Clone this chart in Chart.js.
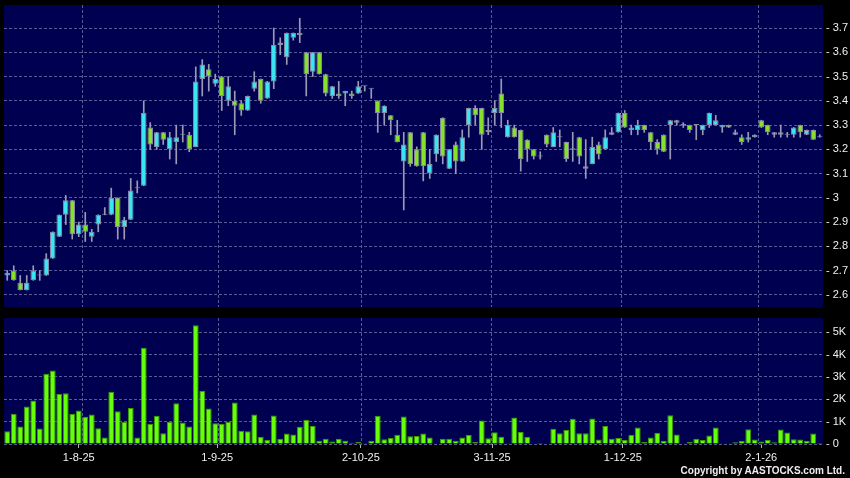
<!DOCTYPE html>
<html>
<head>
<meta charset="utf-8">
<script src="https://cdn.jsdelivr.net/npm/chart.js@4/dist/chart.umd.min.js"></script>
<style>
  body { margin: 0; background: #000; width: 850px; height: 478px; overflow: hidden; position: relative; }
  #priceChart { position: absolute; left: 0; top: 0; }
  #volumeChart { position: absolute; left: 0; top: 312px; }
  #copyright { position: absolute; right: 5px; top: 465px; color: #eeeeee; font: bold 10px "Liberation Sans", Arial, sans-serif; }
</style>
</head>
<body>
<canvas id="priceChart" width="850" height="312"></canvas>
<canvas id="volumeChart" width="850" height="166"></canvas>
<div id="copyright">Copyright by AASTOCKS.com Ltd.</div>
<script>
// daily OHLC, one entry per trading day (17 Jul 2025 .. 15 Jan 2026)
const opens = [
  2.68, 2.70, 2.65, 2.62, 2.66, 2.68, 2.68, 2.75, 2.84, 2.93,
  2.99, 2.85, 2.89, 2.84, 2.89, 2.93, 2.93, 3.00, 2.88, 2.91,
  3.04, 3.05, 3.29, 3.21, 3.27, 3.20, 3.23, 3.26, 3.26, 3.21,
  3.49, 3.53, 3.47, 3.50, 3.40, 3.40, 3.39, 3.36, 3.45, 3.49,
  3.41, 3.48, 3.63, 3.58, 3.66, 3.68, 3.60, 3.52, 3.60, 3.51,
  3.42, 3.43, 3.43, 3.43, 3.43, 3.46, 3.45, 3.40, 3.35, 3.34,
  3.26, 3.15, 3.27, 3.20, 3.27, 3.10, 3.18, 3.33, 3.12, 3.22,
  3.15, 3.30, 3.37, 3.37, 3.27, 3.35, 3.43, 3.25, 3.29, 3.28,
  3.24, 3.20, 3.17, 3.26, 3.21, 3.25, 3.23, 3.20, 3.25, 3.12,
  3.14, 3.22, 3.20, 3.26, 3.27, 3.35, 3.28, 3.28, 3.30, 3.27,
  3.23, 3.26, 3.30, 3.32, 3.30, 3.30, 3.30, 3.28, 3.30, 3.30,
  3.29, 3.30, 3.26, 3.25, 3.24, 3.25, 3.32, 3.30, 3.27, 3.26,
  3.26, 3.26, 3.30, 3.26, 3.28, 3.25
];
const highs = [
  2.70, 2.72, 2.68, 2.68, 2.72, 2.70, 2.77, 2.86, 2.93, 3.01,
  2.99, 2.90, 2.94, 2.87, 2.93, 2.96, 3.04, 3.00, 2.92, 3.08,
  3.07, 3.40, 3.31, 3.27, 3.27, 3.27, 3.30, 3.30, 3.27, 3.54,
  3.57, 3.55, 3.51, 3.50, 3.50, 3.44, 3.40, 3.42, 3.52, 3.49,
  3.48, 3.70, 3.66, 3.68, 3.68, 3.74, 3.60, 3.60, 3.60, 3.51,
  3.46, 3.48, 3.44, 3.44, 3.48, 3.46, 3.45, 3.40, 3.38, 3.34,
  3.32, 3.27, 3.27, 3.21, 3.27, 3.20, 3.26, 3.33, 3.20, 3.23,
  3.28, 3.37, 3.38, 3.37, 3.33, 3.40, 3.49, 3.32, 3.30, 3.28,
  3.24, 3.20, 3.19, 3.26, 3.29, 3.28, 3.23, 3.27, 3.25, 3.24,
  3.25, 3.23, 3.28, 3.29, 3.35, 3.36, 3.30, 3.32, 3.30, 3.27,
  3.24, 3.26, 3.32, 3.32, 3.31, 3.30, 3.30, 3.30, 3.35, 3.34,
  3.30, 3.30, 3.28, 3.26, 3.27, 3.26, 3.32, 3.30, 3.27, 3.30,
  3.27, 3.29, 3.30, 3.28, 3.28, 3.26
];
const lows = [
  2.66, 2.66, 2.62, 2.62, 2.66, 2.66, 2.68, 2.75, 2.84, 2.89,
  2.83, 2.84, 2.82, 2.82, 2.86, 2.93, 2.93, 2.83, 2.83, 2.91,
  3.02, 3.05, 3.20, 3.20, 3.22, 3.16, 3.14, 3.23, 3.19, 3.21,
  3.42, 3.44, 3.46, 3.36, 3.38, 3.26, 3.34, 3.36, 3.44, 3.39,
  3.41, 3.45, 3.59, 3.55, 3.65, 3.64, 3.42, 3.50, 3.51, 3.42,
  3.41, 3.41, 3.38, 3.41, 3.43, 3.44, 3.41, 3.27, 3.30, 3.26,
  3.23, 2.95, 3.13, 3.13, 3.07, 3.08, 3.15, 3.14, 3.12, 3.10,
  3.15, 3.25, 3.30, 3.20, 3.26, 3.30, 3.29, 3.25, 3.25, 3.11,
  3.15, 3.16, 3.16, 3.21, 3.21, 3.21, 3.15, 3.15, 3.14, 3.08,
  3.14, 3.16, 3.20, 3.26, 3.27, 3.29, 3.26, 3.26, 3.27, 3.20,
  3.18, 3.19, 3.16, 3.30, 3.29, 3.27, 3.24, 3.26, 3.29, 3.30,
  3.27, 3.29, 3.26, 3.22, 3.23, 3.25, 3.29, 3.26, 3.25, 3.25,
  3.25, 3.25, 3.25, 3.26, 3.24, 3.25
];
const closes = [
  2.69, 2.66, 2.62, 2.65, 2.70, 2.68, 2.75, 2.86, 2.93, 2.99,
  2.85, 2.89, 2.86, 2.86, 2.93, 2.93, 3.00, 2.88, 2.91, 3.03,
  3.04, 3.35, 3.22, 3.27, 3.24, 3.25, 3.25, 3.26, 3.20, 3.48,
  3.55, 3.50, 3.49, 3.42, 3.46, 3.38, 3.36, 3.42, 3.48, 3.40,
  3.48, 3.63, 3.64, 3.68, 3.68, 3.67, 3.51, 3.60, 3.51, 3.43,
  3.46, 3.42, 3.44, 3.42, 3.46, 3.46, 3.45, 3.35, 3.38, 3.32,
  3.23, 3.22, 3.14, 3.13, 3.13, 3.14, 3.26, 3.17, 3.20, 3.15,
  3.25, 3.37, 3.34, 3.26, 3.28, 3.37, 3.35, 3.30, 3.25, 3.16,
  3.20, 3.17, 3.17, 3.22, 3.27, 3.25, 3.16, 3.20, 3.17, 3.13,
  3.21, 3.18, 3.25, 3.27, 3.35, 3.29, 3.29, 3.30, 3.28, 3.23,
  3.20, 3.19, 3.32, 3.31, 3.30, 3.28, 3.30, 3.30, 3.35, 3.32,
  3.30, 3.29, 3.27, 3.23, 3.25, 3.26, 3.29, 3.27, 3.26, 3.27,
  3.26, 3.29, 3.27, 3.28, 3.24, 3.25
];
// volume in thousands
const volumes = [
  0.57, 1.35, 0.78, 1.68, 1.95, 0.69, 3.15, 3.29, 2.24, 2.27,
  1.35, 1.50, 1.22, 1.32, 0.71, 0.29, 2.34, 1.47, 0.99, 1.61,
  0.29, 4.31, 0.90, 1.26, 0.48, 0.98, 1.82, 0.96, 0.78, 5.32,
  2.37, 1.59, 0.93, 0.89, 0.98, 1.86, 0.59, 0.57, 1.32, 0.33,
  0.18, 1.28, 0.24, 0.47, 0.42, 0.77, 1.08, 0.81, 0.15, 0.24,
  0.11, 0.23, 0.15, 0.06, 0.10, 0.01, 0.15, 1.26, 0.21, 0.27,
  0.41, 1.23, 0.35, 0.36, 0.47, 0.29, 0.02, 0.23, 0.23, 0.15,
  0.29, 0.41, 0.09, 1.05, 0.26, 0.53, 0.32, 0.01, 1.19, 0.54,
  0.33, 0.00, 0.05, 0.00, 0.68, 0.48, 0.63, 1.13, 0.48, 0.48,
  1.14, 0.20, 0.81, 0.24, 0.27, 0.18, 0.41, 0.74, 0.09, 0.29,
  0.50, 0.15, 1.29, 0.42, 0.03, 0.09, 0.24, 0.18, 0.38, 0.74,
  0.03, 0.03, 0.08, 0.14, 0.66, 0.20, 0.11, 0.18, 0.08, 0.65,
  0.51, 0.21, 0.20, 0.15, 0.47, 0.05
];

const priceTicks = [2.6, 2.7, 2.8, 2.9, 3, 3.1, 3.2, 3.3, 3.4, 3.5, 3.6, 3.7];
const volumeTicks = [0, 1, 2, 3, 4, 5];
const dateLabels = ['1-8-25', '1-9-25', '2-10-25', '3-11-25', '1-12-25', '2-1-26'];
const dateTickDays = [11, 32.3, 54.4, 74.6, 94.7, 116];   // day index of each date label
const monthGridDays = [11.5, 32.5, 54.5, 74.5, 94.5, 115.5];

const NAVY = '#000050';
const GRID = '#5a5a94';
const TEXT = '#f0f0f0';
const UP = '#3ce4f2';
const DOWN = '#86e02c';
const FLAT = '#9a9ab4';
const EDGE = '#8a8aa8';
const VOL = '#66ff0a';
const VOL_EDGE = '#3c9a00';
const FONT = { family: 'Liberation Sans', size: 11 };

const days = opens.map((_, i) => i);
const lastDay = days.length - 1;

const panelBg = {
  id: 'panelBg',
  beforeDraw(chart) {
    const { ctx, chartArea: a } = chart;
    ctx.save();
    ctx.fillStyle = '#000';
    ctx.fillRect(0, 0, chart.width, chart.height);
    ctx.fillStyle = NAVY;
    ctx.fillRect(a.left, a.top, a.right - a.left, a.bottom - a.top);
    ctx.restore();
  }
};

// x axis that only draws the dashed month lines
function monthGridAxis() {
  return {
    type: 'linear', min: -0.5, max: lastDay + 0.5, offset: false,
    grid: { offset: false, color: GRID, drawTicks: false },
    border: { display: false, dash: [3, 2] },
    ticks: { display: false },
    afterBuildTicks: s => { s.ticks = monthGridDays.map(v => ({ value: v })); },
    afterFit: s => { s.height = 0; }
  };
}

function rightAxis(min, max, values, fmt) {
  return {
    position: 'right', min: min, max: max,
    grid: { color: GRID, drawTicks: false },
    border: { display: false, dash: [3, 2] },
    ticks: { color: TEXT, font: FONT, padding: 3, callback: v => '- ' + fmt(v) },
    afterBuildTicks: s => { s.ticks = values.map(v => ({ value: v })); },
    afterFit: s => {
      s.width = 27;
      s.paddingTop = 0;
      s.paddingBottom = 0;
    }
  };
}

function drawCharts() {
  const bodyColors = days.map(i =>
    closes[i] > opens[i] ? UP : closes[i] < opens[i] ? DOWN : FLAT);

  new Chart(document.getElementById('priceChart'), {
    type: 'bar',
    data: {
      datasets: [
        {
          label: 'wick',
          data: days.map(i => ({ x: i, y: [lows[i], highs[i]] })),
          backgroundColor: FLAT,
          borderWidth: 0,
          barThickness: 1,
          grouped: false,
          order: 2
        },
        {
          label: 'body',
          data: days.map(i => ({ x: i, y: [opens[i], closes[i]] })),
          backgroundColor: bodyColors,
          borderColor: EDGE,
          borderWidth: 1,
          borderSkipped: false,
          minBarLength: 1,
          barPercentage: 0.86,
          categoryPercentage: 1,
          grouped: false,
          order: 1
        }
      ]
    },
    options: {
      responsive: false,
      animation: false,
      devicePixelRatio: 1,
      layout: { padding: { left: 4, top: 5, right: 0, bottom: 5 } },
      plugins: { legend: { display: false }, tooltip: { enabled: false } },
      scales: {
        x: monthGridAxis(),
        y: rightAxis(2.55, 3.795, priceTicks, v => String(v))
      }
    },
    plugins: [panelBg]
  });

  new Chart(document.getElementById('volumeChart'), {
    type: 'bar',
    data: {
      datasets: [{
        label: 'volume',
        data: days.map(i => ({ x: i, y: volumes[i] })),
        backgroundColor: VOL,
        borderColor: VOL_EDGE,
        borderWidth: 1,
        borderSkipped: 'bottom',
        barPercentage: 0.9,
        categoryPercentage: 1
      }]
    },
    options: {
      responsive: false,
      animation: false,
      devicePixelRatio: 1,
      layout: { padding: { left: 4, top: 6, right: 0, bottom: 12 } },
      plugins: { legend: { display: false }, tooltip: { enabled: false } },
      scales: {
        x: monthGridAxis(),
        dates: {
          type: 'linear', position: 'bottom', min: -0.5, max: lastDay + 0.5, offset: false,
          grid: { offset: false, drawOnChartArea: false, drawTicks: true, tickLength: 4, tickColor: '#b0b0b0' },
          border: { display: false },
          ticks: { color: TEXT, font: FONT, padding: 3, autoSkip: false, maxRotation: 0,
                   callback: (v, i) => dateLabels[i] },
          afterBuildTicks: s => { s.ticks = dateTickDays.map(v => ({ value: v })); },
          afterFit: s => { s.height = 22; }
        },
        y: rightAxis(0, 5.64, volumeTicks, v => v === 0 ? '0' : v + 'K')
      }
    },
    plugins: [panelBg]
  });
}

window.addEventListener('DOMContentLoaded', drawCharts);
</script>
</body>
</html>
